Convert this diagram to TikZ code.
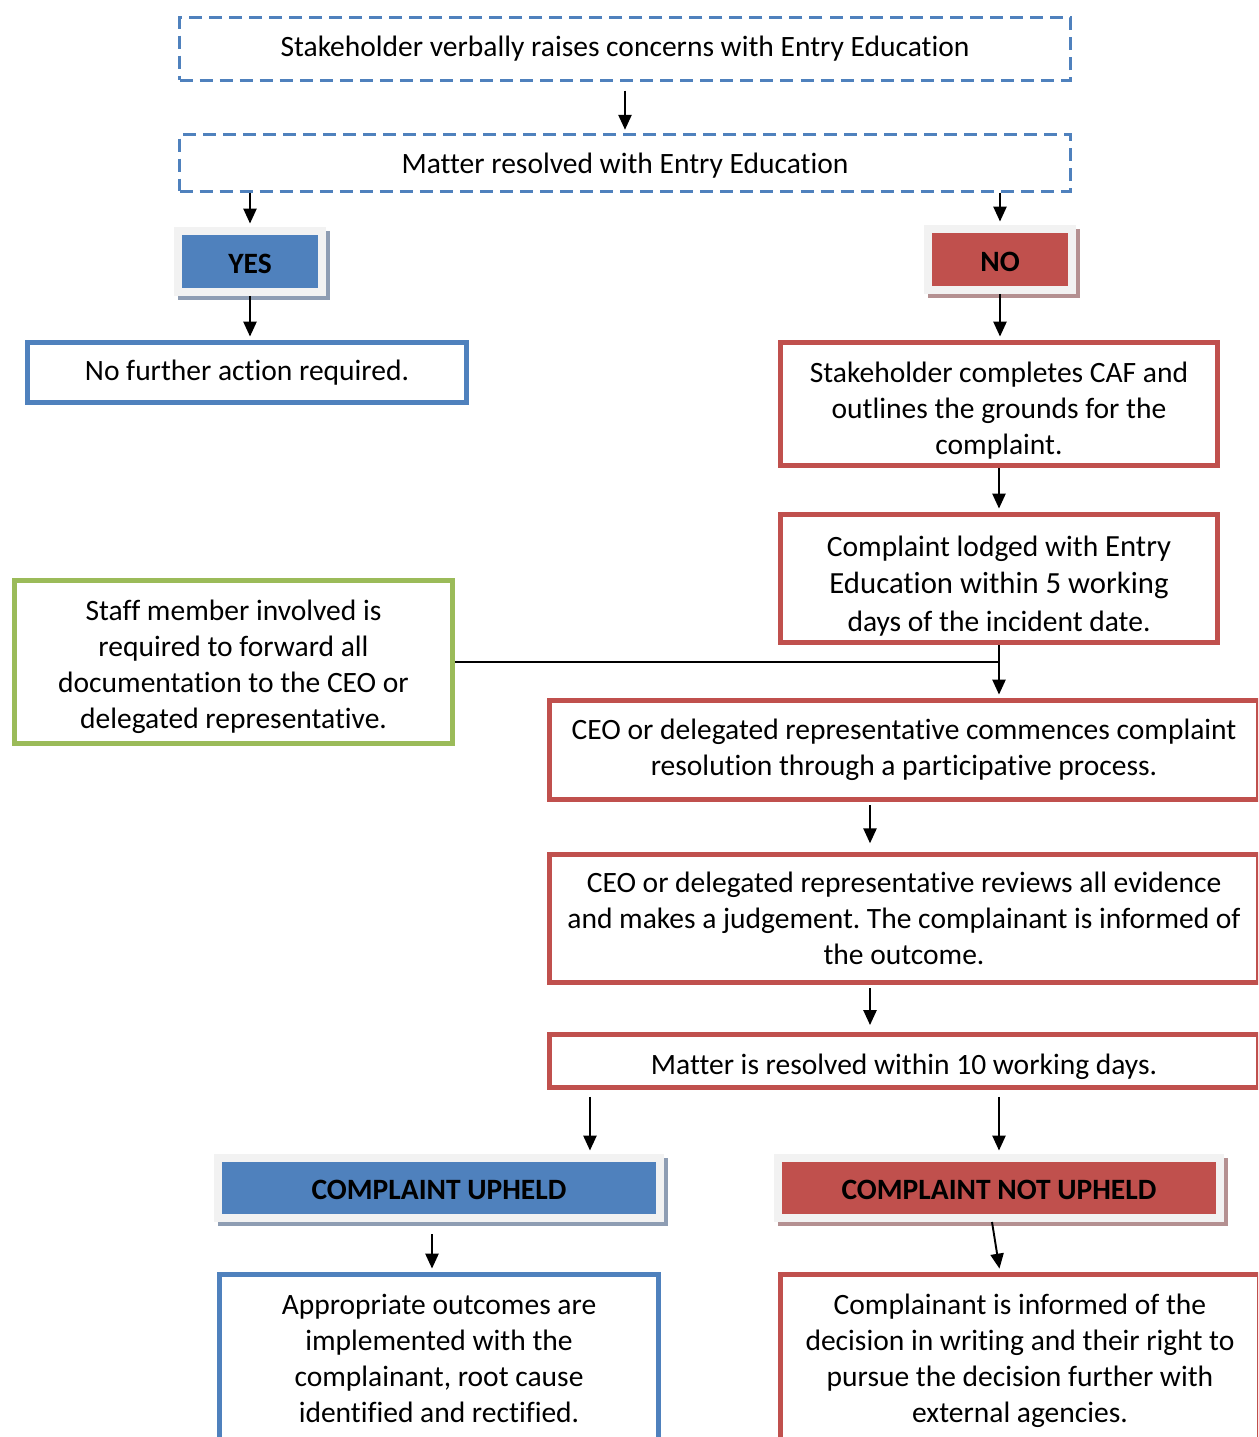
\documentclass[tikz,border=0pt]{standalone}
\usepackage{fontspec}
\setmainfont{Carlito}[Ligatures=NoCommon]
\usetikzlibrary{arrows.meta}
\frenchspacing
\definecolor{boxblue}{HTML}{4F81BD}
\definecolor{boxred}{HTML}{C0504D}
\definecolor{boxgreen}{HTML}{9BBB59}
\definecolor{framegray}{HTML}{F2F2F2}
\definecolor{shadowblue}{HTML}{8E9DB3}
\definecolor{shadowred}{HTML}{B49091}
\newcommand\decale[2][12.1pt]{\rule{0pt}{\dimexpr#1+#2\relax}}
\begin{document}
\begin{tikzpicture}[x=0.02cm, y=-0.02cm]
\tikzset{txt/.style={font=\fontsize{16.8}{20.5}\selectfont, align=center, inner sep=0pt},
  tiret/.style={txt, draw=boxblue, line width=1.4pt, dash pattern=on 7.4pt off 4pt},
  cadre/.style={txt, line width=2.8pt},
  cadrebleu/.style={cadre, draw=boxblue},
  cadrerouge/.style={cadre, draw=boxred},
  cadrevert/.style={cadre, draw=boxgreen},
  etiq/.style={inner sep=0pt, line width=4.55pt, draw=framegray, font=\fontsize{16.8}{20.5}\selectfont\bfseries},
  etiqbleu/.style={etiq, fill=boxblue, preaction={fill=shadowblue, draw=shadowblue, line width=4.55pt, transform canvas={xshift=2.3pt, yshift=-2.3pt}}},
  etiqrouge/.style={etiq, fill=boxred, preaction={fill=shadowred, draw=shadowred, line width=4.55pt, transform canvas={xshift=2.3pt, yshift=-2.3pt}}},
  fleche/.style={-{Triangle[width=7.5pt, length=8.5pt]}, line width=1.1pt, shorten >=2pt}}
\useasboundingbox (0,0) rectangle (1258,1437);
\clip (0,0) rectangle (1258,1437);
\node[tiret, minimum width=17.82cm, minimum height=1.26cm] (T1) at (625,49) {Stakeholder verbally raises concerns with Entry Education};
\node[tiret, minimum width=17.82cm, minimum height=1.14cm] (T2) at (625,163) {\decale{2.3pt}Matter resolved with Entry Education};
\node[etiqbleu, minimum width=2.88cm, minimum height=1.22cm] (OUI) at (250,261.5) {\decale[10.8pt]{3.4pt}YES};
\node[etiqrouge, minimum width=2.88cm, minimum height=1.22cm] (NON) at (1000,259.5) {\decale[10.8pt]{3.4pt}NO};
\node[cadrebleu, minimum width=8.78cm, minimum height=1.2cm] (B1) at (247,372.5) {No further action required.};
\node[cadrerouge, minimum width=8.74cm, minimum height=2.46cm] (R1) at (999,404) {\decale{6.8pt}Stakeholder completes CAF and\\outlines the grounds for the\\complaint.};
\node[cadrerouge, minimum width=8.74cm, minimum height=2.56cm, font=\fontsize{16.8}{21.3}\selectfont] (R2) at (999,578.5) {\decale{8pt}Complaint lodged with {\fontsize{17.5}{21.3}\selectfont Entry}\\{\fontsize{17.5}{21.3}\selectfont Education within 5 working}\\days of the incident date.};
\node[cadrevert, minimum width=8.76cm, minimum height=3.26cm] (V1) at (233.5,662) {\decale{4.5pt}Staff member involved is\\required to forward all\\documentation to the CEO or\\delegated representative.};
\node[cadrerouge, minimum width=14.18cm, minimum height=1.98cm] (R3) at (904,750) {CEO or delegated representative commences complaint\\resolution through a participative process.};
\node[cadrerouge, minimum width=14.18cm, minimum height=2.56cm] (R4) at (904,918.5) {CEO or delegated representative reviews all evidence\\and makes a judgement. The complainant is informed of\\the outcome.};
\node[cadrerouge, minimum width=14.18cm, minimum height=1.06cm] (R5) at (904,1061) {\decale{5.7pt}Matter is resolved within 10 working days.};
\node[etiqbleu, minimum width=8.84cm, minimum height=1.2cm] (UP) at (439,1188) {\decale[10.8pt]{2.3pt}COMPLAINT UPHELD};
\node[etiqrouge, minimum width=8.84cm, minimum height=1.2cm] (NUP) at (999,1188) {\decale[10.8pt]{2.3pt}COMPLAINT NOT UPHELD};
\node[cadrebleu, minimum width=8.78cm, minimum height=3.34cm] (B2) at (439,1358) {Appropriate outcomes are\\implemented with the\\complainant, root cause\\identified and rectified.};
\node[cadrerouge, minimum width=9.58cm, minimum height=3.34cm] (R6) at (1020,1358) {\decale{2.3pt}Complainant is informed of the\\decision in writing and their right to\\pursue the decision further with\\external agencies.};
\draw[fleche, shorten <=5pt] (T1.south) -- (T2.north);
\draw[fleche] (T2.south -| OUI.north) -- (OUI.north);
\draw[fleche] (T2.south -| NON.north) -- (NON.north);
\draw[fleche] (OUI.south) -- (OUI.south |- B1.north);
\draw[fleche] (NON.south) -- (NON.south |- R1.north);
\draw[fleche] (R1.south) -- (R2.north);
\draw[fleche] (R2.south) -- (R2.south |- R3.north);
\draw[line width=1.1pt] (V1.east) -- (V1.east -| R2.south);
\draw[fleche, shorten <=2pt, shorten >=5pt] ([xshift=-0.68cm]R3.south) -- ([xshift=-0.68cm]R4.north);
\draw[fleche, shorten <=2pt, shorten >=4pt] ([xshift=-0.68cm]R4.south) -- ([xshift=-0.68cm]R5.north);
\draw[fleche, shorten <=4pt] ([xshift=3.02cm]UP.north |- R5.south) -- ([xshift=3.02cm]UP.north);
\draw[fleche, shorten <=4pt] (NUP.north |- R5.south) -- (NUP.north);
\draw[fleche, shorten <=7pt] ([xshift=-0.14cm]UP.south) -- ([xshift=-0.14cm]B2.north);
\draw[fleche] ([xshift=-0.14cm]NUP.south) -- ([xshift=-0.4cm]R6.north);
\end{tikzpicture}
\end{document}
